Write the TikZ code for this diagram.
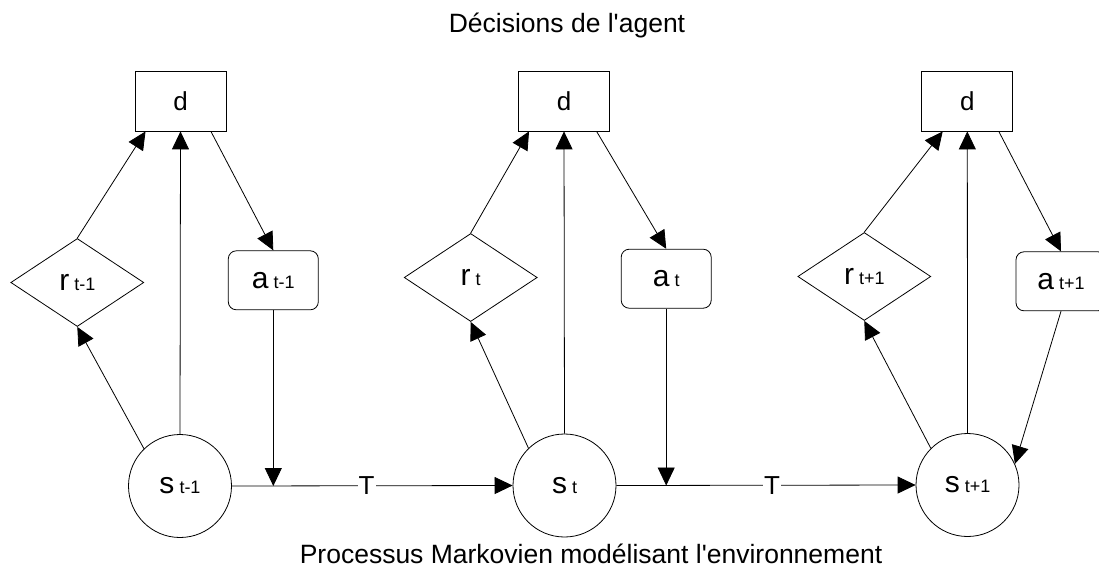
\documentclass[tikz,border=0pt]{standalone}
\usepackage{fontspec}
\setmainfont{Liberation Sans}
\usetikzlibrary{shapes.geometric,arrows.meta}

% main letter followed by a smaller index on the same baseline
\newcommand{\idxlabel}[2]{{\fontsize{30}{30}\selectfont #1}{\fontsize{18}{18}\selectfont\ #2}}

\begin{document}
\begin{tikzpicture}[x=1pt,y=-1pt,
  every node/.style={inner sep=0pt},
  decision/.style={draw, line width=0.8pt, minimum width=91pt, minimum height=60pt,
                   font=\fontsize{26}{26}\selectfont},
  reward/.style={draw, diamond, shape aspect=1.5, line width=0.8pt,
                 minimum width=133pt, minimum height=88pt},
  action/.style={draw, rounded corners=8pt, line width=0.8pt,
                 minimum width=90pt, minimum height=59pt},
  state/.style={draw, circle, line width=0.8pt, minimum size=103pt},
  link/.style={line width=0.8pt, -{Triangle[length=18pt,width=17pt]}},
  trans/.style={font=\fontsize{26}{26}\selectfont, fill=white, inner sep=1pt},
  caption/.style={font=\fontsize{26.5}{30}\selectfont, anchor=base}
]
\useasboundingbox (0,0) rectangle (1099,567);

% captions
\node[caption] (top) at (567,33) {Décisions de l\textquotesingle agent};
\node[caption] (bottom) at (591,563) {Processus Markovien modélisant l\textquotesingle environnement};

% time step t-1
\node[decision] (d1) at (180.5,101) {d};
\node[reward]   (r1) at (77.3,282.5) {\idxlabel{r}{t-1}};
\node[action]   (a1) at (273.3,280.3) {\idxlabel{a}{t-1}};
\node[state]    (s1) at (180,486) {\idxlabel{s}{t-1}};

% time step t
\node[decision] (d2) at (564,101) {d};
\node[reward]   (r2) at (470.7,277.5) {\idxlabel{r}{t}};
\node[action]   (a2) at (666.2,278.7) {\idxlabel{a}{t}};
\node[state]    (s2) at (564.5,485.5) {\idxlabel{s}{t}};

% time step t+1
\node[decision] (d3) at (967.3,101) {d};
\node[reward]   (r3) at (864.3,276.5) {\idxlabel{r}{t+1}};
\node[action]   (a3) at (1061,281.3) {\idxlabel{a}{t+1}};
\node[state]    (s3) at (967.5,485) {\idxlabel{s}{t+1}};

% points where the actions meet the transitions
\coordinate (j1) at (a1.south |- s1.east);
\coordinate (j2) at (a2.south |- s2.east);

% agent loop, step t-1
\draw[link] (s1.134) -- (r1.south);
\draw[link] (r1.north) -- (d1.-139);
\draw[link] (s1.north) -- (d1.south);
\draw[link] (d1.-45) -- (a1.north);
\draw[link] (a1.south) -- (j1);

% agent loop, step t
\draw[link] (s2.134) -- (r2.south);
\draw[link] (r2.north) -- (d2.-139);
\draw[link] (s2.north) -- (d2.south);
\draw[link] (d2.-43) -- (a2.north);
\draw[link] (a2.south) -- (j2);

% agent loop, step t+1
\draw[link] (s3.135) -- (r3.south);
\draw[link] (r3.north) -- (d3.-129);
\draw[link] (s3.north) -- (d3.south);
\draw[link] (d3.-44) -- (a3.north);
\draw[link] (a3.south) -- (s3.24);

% transitions
\draw[link] (s1.east) -- node[trans, pos=0.48] (T1) {T} (s2.west);
\draw[link] (s2.east) -- node[trans, pos=0.52] (T2) {T} (s3.west);
\end{tikzpicture}
\end{document}
